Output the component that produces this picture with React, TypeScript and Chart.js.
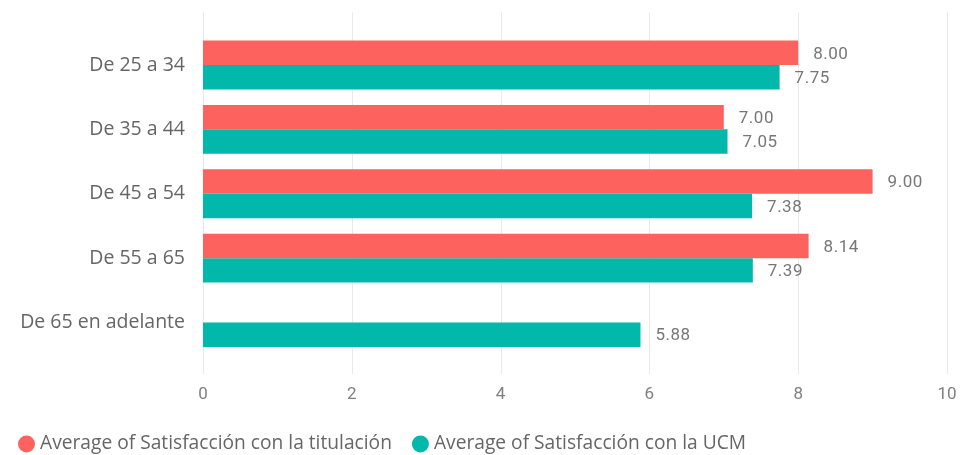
import React, { useEffect, useRef } from "react";
import { Chart, registerables } from "chart.js";

Chart.register(...registerables);

const categories = ["De 25 a 34", "De 35 a 44", "De 45 a 54", "De 55 a 65", "De 65 en adelante"];
const seriesNames = ["Average of Satisfacción con la titulación", "Average of Satisfacción con la UCM"];
const titulacion: (number | null)[] = [8.0, 7.0, 9.0, 8.14, null];
const ucm: (number | null)[] = [7.75, 7.05, 7.38, 7.39, 5.88];
const xMin = 0;
const xMax = 10;
const xStep = 2;

const RED = "#FD625E";
const TEAL = "#01B8AA";
const LABEL_FONT = "'Open Sans', 'Noto Sans', sans-serif";
const NUM_FONT = "Roboto, 'Noto Sans', sans-serif";

const gridPlugin = {
  id: "extGrid",
  beforeDatasetsDraw(chart: any) {
    const ctx = chart.ctx;
    const xs = chart.scales.x;
    ctx.save();
    ctx.strokeStyle = "#e9e9e9";
    ctx.lineWidth = 1;
    xs.ticks.forEach((t: any) => {
      const x = Math.round(xs.getPixelForValue(t.value)) + 0.5;
      ctx.beginPath();
      ctx.moveTo(x, 12.5);
      ctx.lineTo(x, 374);
      ctx.stroke();
    });
    ctx.restore();
  },
};

const valueLabelPlugin = {
  id: "valueLabels",
  afterDatasetsDraw(chart: any) {
    const ctx = chart.ctx;
    ctx.save();
    ctx.font = `17px ${NUM_FONT}`;
    ctx.fillStyle = "#777777";
    ctx.textAlign = "left";
    ctx.textBaseline = "middle";
    try { (ctx as any).letterSpacing = "0.5px"; } catch (e) {}
    chart.data.datasets.forEach((ds: any, di: number) => {
      const meta = chart.getDatasetMeta(di);
      meta.data.forEach((el: any, i: number) => {
        const v = ds.data[i];
        if (v === null || v === undefined) return;
        ctx.fillText(Number(v).toFixed(2), el.x + 15, el.y + 1.5);
      });
    });
    ctx.restore();
  },
};

const legendPlugin = {
  id: "customLegend",
  afterDraw(chart: any) {
    const ctx = chart.ctx;
    ctx.save();
    ctx.font = `19.2px ${LABEL_FONT}`;
    ctx.textBaseline = "middle";
    ctx.textAlign = "left";
    const y = 444;
    let x = 18;
    chart.data.datasets.forEach((ds: any) => {
      ctx.fillStyle = ds.backgroundColor;
      ctx.beginPath();
      ctx.arc(x + 8.5, y, 8.5, 0, Math.PI * 2);
      ctx.fill();
      ctx.fillStyle = "#666666";
      const tx = x + 22;
      ctx.fillText(ds.label, tx, y);
      x = tx + ctx.measureText(ds.label).width + 20;
    });
    ctx.restore();
  },
};

export default function App() {
  const ref = useRef<HTMLCanvasElement | null>(null);
  useEffect(() => {
    if (!ref.current) return;
    const chart = new Chart(ref.current, {
      type: "bar",
      data: {
        labels: categories,
        datasets: [
          { label: seriesNames[0], data: titulacion, backgroundColor: RED, borderWidth: 0 },
          { label: seriesNames[1], data: ucm, backgroundColor: TEAL, borderWidth: 0 },
        ],
      },
      options: {
        indexAxis: "y",
        animation: false,
        responsive: true,
        maintainAspectRatio: false,
        datasets: { bar: { categoryPercentage: 0.76, barPercentage: 1 } },
        layout: { padding: { top: 32.8, right: 15, bottom: 40.3, left: 0 } },
        plugins: { legend: { display: false }, tooltip: { enabled: false } },
        scales: {
          x: {
            type: "linear",
            min: xMin,
            max: xMax,
            ticks: { stepSize: xStep, color: "#808080", font: { family: NUM_FONT, size: 17 }, padding: 30 },
            grid: { display: false, drawTicks: false },
            border: { display: false },
            afterFit: (s: any) => { s.height = 60; s.paddingRight = 0; s.paddingLeft = 0; },
          },
          y: {
            type: "category",
            ticks: { color: "#666666", font: { family: LABEL_FONT, size: 19.5 }, padding: 18 },
            grid: { display: false, drawTicks: false },
            border: { display: false },
            afterFit: (s: any) => { s.width = 203; s.paddingTop = 0; s.paddingBottom = 0; },
          },
        },
      },
      plugins: [gridPlugin, valueLabelPlugin, legendPlugin],
    });
    return () => chart.destroy();
  }, []);
  return (
    <div style={{ position: "fixed", left: 0, top: 0, width: 962, height: 455, background: "#fff" }}>
      <canvas ref={ref} />
    </div>
  );
}
